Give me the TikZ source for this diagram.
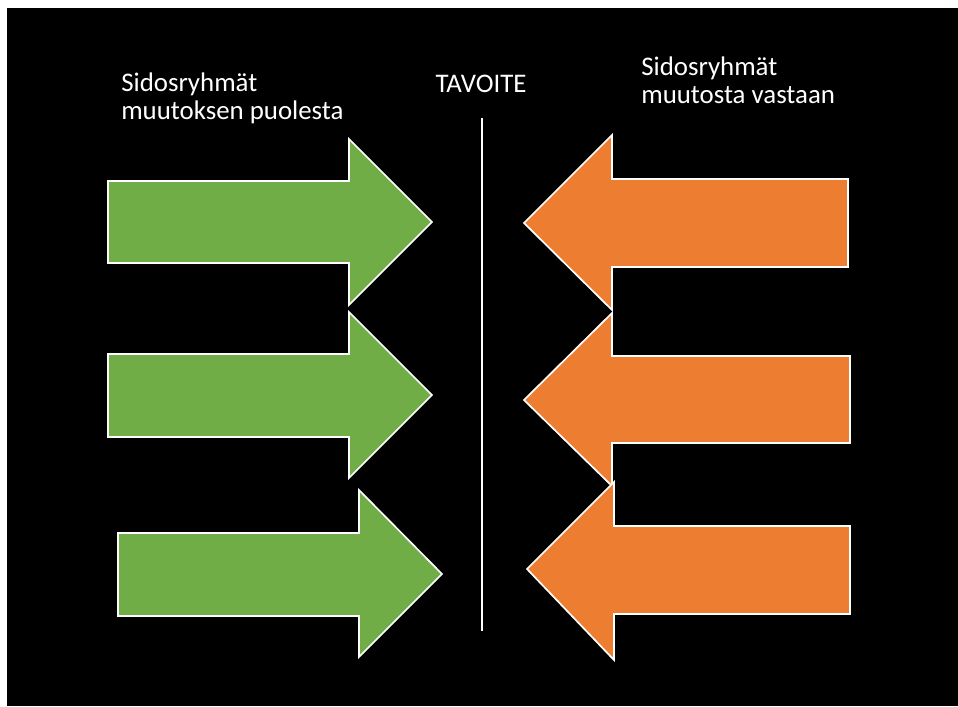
\documentclass[tikz,border=0pt]{standalone}
\usepackage{fontspec}
\setmainfont{Carlito}
\usetikzlibrary{positioning}
\definecolor{proGreen}{HTML}{70AD47}
\definecolor{contraOrange}{HTML}{ED7D31}

\begin{document}
\begin{tikzpicture}[
    x=0.025cm, y=-0.025cm,
    pro/.style={fill=proGreen, draw=white, line width=1.2pt},
    contra/.style={fill=contraOrange, draw=white, line width=1.2pt},
    label/.style={text=white, inner sep=0pt, align=left, anchor=base west,
                font=\fontsize{19.1}{19.9}\selectfont}
]
% background
\fill[white] (0,0) rectangle (958,706);
\fill[black] (7,8) rectangle (958,706);
\useasboundingbox (0,0) rectangle (958,706);

% headings
\node[label] (proText) at (121,119) {Sidosryhmät\\muutoksen puolesta};
\node[label] (contraText) at (641,103) {Sidosryhmät\\muutosta vastaan};
\node[label, anchor=base] (goal) at (481,92) {TAVOITE};

% goal line
\coordinate (lineTop) at (482,118);
\coordinate (lineEnd) at (482,631);
\draw[white, line width=1pt] (lineTop) -- (lineEnd);

% arrows for the change
\draw[pro] (108,181) -- (349,181) -- (349,139) -- (432,222) -- (349,305)
    -- (349,263) -- (108,263) -- cycle;
\draw[pro] (108,354) -- (349,354) -- (349,312) -- (432,395) -- (349,478)
    -- (349,437) -- (108,437) -- cycle;
\draw[pro] (118,533) -- (359,533) -- (359,490) -- (442,574) -- (359,657)
    -- (359,616) -- (118,616) -- cycle;

% arrows against the change
\draw[contra] (848,179) -- (612,179) -- (612,135) -- (524,223) -- (612,310)
    -- (612,267) -- (848,267) -- cycle;
\draw[contra] (850,356) -- (612,356) -- (612,313) -- (524,400) -- (612,486)
    -- (612,443) -- (850,443) -- cycle;
\draw[contra] (850,526) -- (614,526) -- (614,482) -- (527,569) -- (614,660)
    -- (614,614) -- (850,614) -- cycle;
\end{tikzpicture}
\end{document}
